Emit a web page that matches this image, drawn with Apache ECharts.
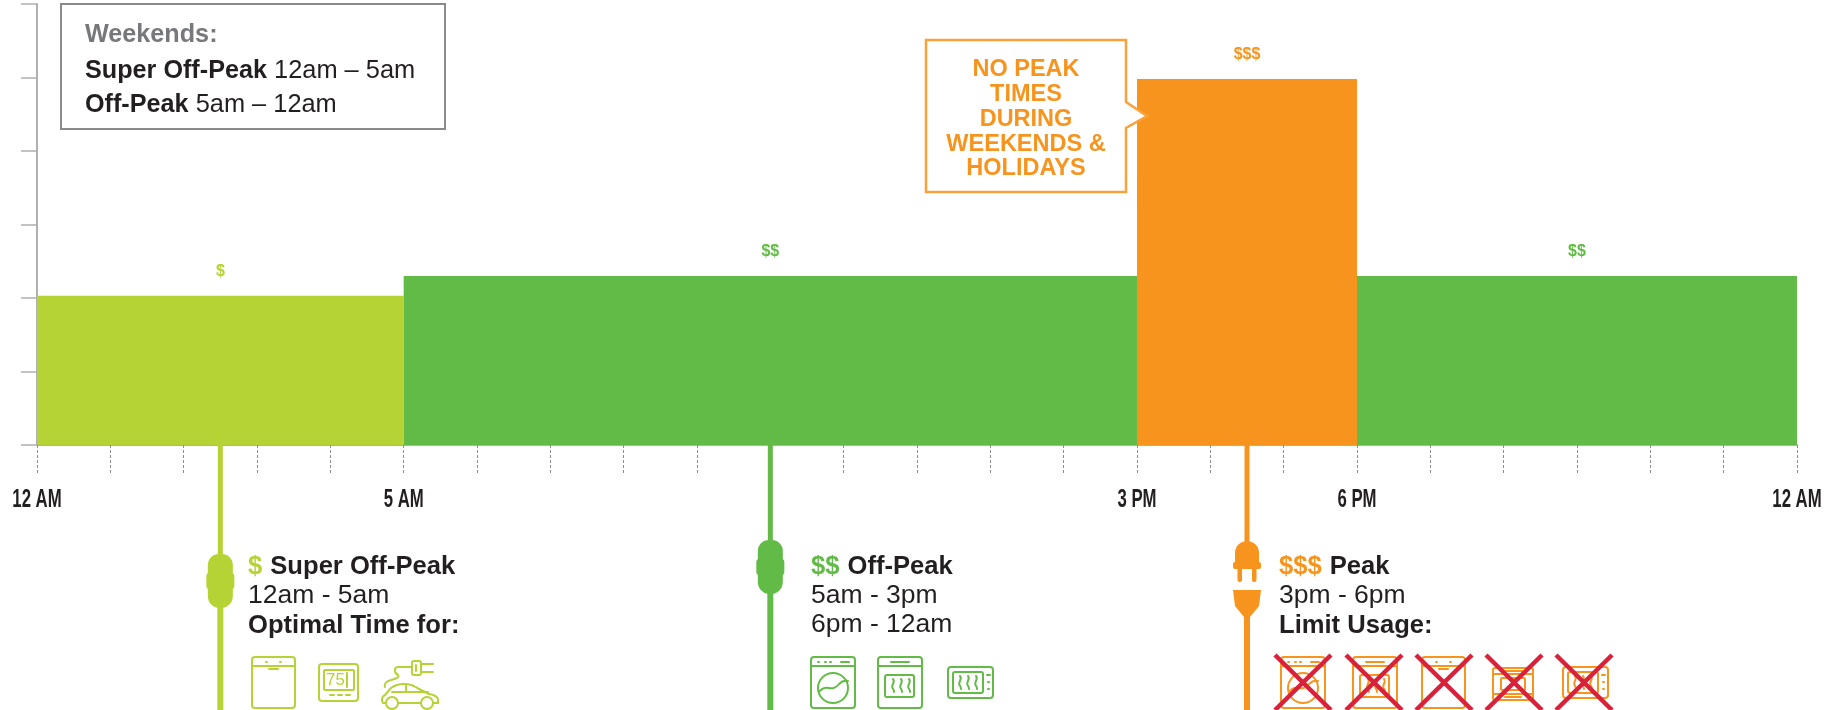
<!DOCTYPE html>
<html><head><meta charset="utf-8">
<style>html,body{margin:0;padding:0;background:#fff}#c{width:1833px;height:710px}</style>
<script src="https://cdn.jsdelivr.net/npm/echarts@6/dist/echarts.min.js"></script></head>
<body><div id="c"></div>
<script>
// --- data ---
const segStart  = [0, 5, 15, 18];
const segEnd    = [5, 15, 18, 24];
const segValue  = [2.03, 2.3, 4.98, 2.3];
const segPrice  = ['$', '$$', '$$$', '$$'];
const segColor  = ['#b5d334', '#62bb46', '#f7941e', '#62bb46'];
const tickHours  = [0, 5, 15, 18, 24];
const tickLabels = ['12 AM', '5 AM', '3 PM', '6 PM', '12 AM'];
const plugHours  = [2.5, 10, 16.5];
const plugColors = ['#b5d334', '#62bb46', '#f7941e'];
const plugTops   = [581, 567, 567]; // centre of each plug body
const weekendLines = ['Weekends:', 'Super Off-Peak', ' 12am – 5am', 'Off-Peak', ' 5am – 12am'];
const calloutLines = ['NO PEAK', 'TIMES', 'DURING', 'WEEKENDS &', 'HOLIDAYS'];

const DARK = '#231f20', GREY = '#77787b', FONT = '"Liberation Sans", Arial, sans-serif';
const RED = '#d9213a';

// --- icon outlines (local coordinates) ---
const rr = (x,y,w,h,r) => `M${x+r} ${y}h${w-2*r}a${r} ${r} 0 0 1 ${r} ${r}v${h-2*r}a${r} ${r} 0 0 1-${r} ${r}h-${w-2*r}a${r} ${r} 0 0 1-${r}-${r}v-${h-2*r}a${r} ${r} 0 0 1 ${r}-${r}z`;
const waves = (x,y,h) => [0,8,16].map(d => `M${x+d} ${y}c3 ${h*.25}-3 ${h*.5} 0 ${h*.75}c1 ${h*.1} 1 ${h*.2} 1 ${h*.25}`).join('');
const ICON = {
  dish: rr(0,0,43,51,3)+'M0 9h43M14 5h1M28 5h1M17 12h9',
  washer: rr(0,0,44,51,3)+'M0 9h44M7 5h1M14 5h1M19 5h1M30 5h8'+'M37 31a15 15 0 1 1-30 0a15 15 0 1 1 30 0z'+'M8 35c8-10 12 2 20-8c3-3 6-4 9-3',
  oven: rr(0,0,44,51,3)+'M0 9h44M13 5h18'+rr(7,18,29,22,2)+waves(15,22,13),
  micro: rr(0,0,45,31,3)+rr(5,5,30,21,2)+waves(12,9,13)+'M39 8h3M40 15h1M40 22h1',
  thermo: rr(0,0,39,37,3)+rr(5,6,30,20,1)+'M11 31h4M19 31h4M27 31h4M28 9v14',
  range: rr(0,0,40,32,2)+'M0 6h40M0 26h40M10 3h20M12 29h16'+rr(8,10,24,12,1),
  car: 'M5 54H2c-2-3-1-7 2-8l6-7c4-3 8-4 13-4c6 0 11 2 15 5l10 5c6 1 9 3 9 6v3h-5M17 54h23'
     +'M17 54a6 6 0 1 1-12 0a6 6 0 1 1 12 0zM52 54a6 6 0 1 1-12 0a6 6 0 1 1 12 0z'
     +'M11 43h36M25 35v8'
     +'M31 18H18c-6 0-5 6-1 8c2 2-2 4-7 5c-5 1-7 4-6 7'
     +rr(31,12,9,14,2)+'M40 15h12M40 23h12M35 16v6'
};
const iconNames  = ['dish','thermo','car','washer','oven','micro','washer','oven','dish','range','micro'];
const iconColors = [0,0,0,1,1,1,2,2,2,2,2];
const iconX = [252,319,381,811,878,948,1281,1353,1422,1493,1563];
const iconY = [657,664,649,657,657,667,657,657,657,668,667];
const crossX = [1303,1374,1444,1514,1584];

function renderIcon(params){
  const i = params.dataIndex;
  return {type:'path', x:iconX[i], y:iconY[i], silent:true, shape:{pathData:ICON[iconNames[i]]},
    style:{fill:null, stroke:plugColors[iconColors[i]], lineWidth:2, lineCap:'round', lineJoin:'round'}};
}
function renderCross(params){
  const c = crossX[params.dataIndex];
  return {type:'group', children:[[-28,28],[28,-28]].map(p => ({type:'line',
    shape:{x1:c+p[0], y1:655, x2:c+p[1], y2:710}, style:{stroke:RED, lineWidth:4.5}}))};
}
function renderTickLabel(params, api){
  const p = api.coord([api.value(0),0]);
  return {type:'text', x:p[0], y:p[1]+55, scaleX:0.67,
    style:{text:tickLabels[params.dataIndex], fontFamily:FONT, fontWeight:'bold', fontSize:25, fill:DARK, align:'center', verticalAlign:'middle'}};
}

const txt = (x,y,text,rich,extra) => Object.assign({type:'text', x, y, z:8, silent:true,
  style:Object.assign({text, rich, fontFamily:FONT, verticalAlign:'middle', align:'left', fill:DARK}, extra||{})});
const FB = 25.6, FN = 26.5;
const R = {
  b:{fontFamily:FONT, fontSize:FB, fontWeight:'bold', fill:DARK},
  n:{fontFamily:FONT, fontSize:FN, fill:DARK},
  g:{fontFamily:FONT, fontSize:25.2, fontWeight:'bold', fill:GREY},
  bw:{fontFamily:FONT, fontSize:25.2, fontWeight:'bold', fill:DARK},
  nw:{fontFamily:FONT, fontSize:25.4, fill:DARK},
  s:{fontFamily:FONT, fontSize:17, fill:DARK},
  c0:{fontFamily:FONT, fontSize:FB, fontWeight:'bold', fill:plugColors[0]},
  c1:{fontFamily:FONT, fontSize:FB, fontWeight:'bold', fill:plugColors[1]},
  c2:{fontFamily:FONT, fontSize:FB, fontWeight:'bold', fill:plugColors[2]}
};

const graphic = [
  {type:'rect', z:7, shape:{x:61,y:4,width:384,height:125}, style:{fill:'#fff', stroke:'#8a8a8a', lineWidth:2}},
  txt(85,35,`{g|${weekendLines[0]}}`,R),
  txt(85,71,`{bw|${weekendLines[1]}}{nw|${weekendLines[2]}}`,R),
  txt(85,105,`{bw|${weekendLines[3]}}{nw|${weekendLines[4]}}`,R),
  {type:'polygon', z:7, shape:{points:[[926,40],[1126,40],[1126,102],[1147,116],[1126,128],[1126,192],[926,192]]},
   style:{fill:'#fff', stroke:'#f9a13a', lineWidth:2.5}},
  ...calloutLines.map((t,i)=>txt(1026,[70,95,120,145,169][i],t,null,{fontSize:23.5,fontWeight:'bold',fill:'#f7941e',align:'center'})),
  txt(248,567,'{c0|$} {s| }{b|Super Off-Peak}',R),
  txt(248,596,'{n|12am - 5am}',R),
  txt(248,626,'{b|Optimal Time for:}',R),
  txt(811,567,'{c1|$$} {s| }{b|Off-Peak}',R),
  txt(811,596,'{n|5am - 3pm}',R),
  txt(811,625,'{n|6pm - 12am}',R),
  txt(1279,567,'{c2|$$$} {s| }{b|Peak}',R),
  txt(1279,596,'{n|3pm - 6pm}',R),
  txt(1279,626,'{b|Limit Usage:}',R),
  txt(326,680,'75',null,{fontSize:17,fill:plugColors[0]})
];

function renderSeg(params, api){
  const s = api.value(0), e = api.value(1), v = api.value(2);
  const a = api.coord([s,0]), b = api.coord([e,v]), c = api.coord([(s+e)/2,v]);
  return {type:'group', children:[
    {type:'rect', shape:{x:a[0], y:b[1], width:b[0]-a[0], height:a[1]-b[1]}, style:{fill:segColor[params.dataIndex]}},
    {type:'text', x:c[0], y:c[1]-24, style:{text:segPrice[params.dataIndex], fontFamily:FONT, fontSize:16, fontWeight:'bold',
      fill:segColor[params.dataIndex], align:'center', verticalAlign:'middle'}}
  ]};
}
function renderPlug(params, api){
  const i = params.dataIndex, col = plugColors[i];
  const p = api.coord([api.value(0),0]), x = p[0], y0 = p[1], cy = plugTops[i];
  const st = {fill:col};
  const kids = [];
  if(i < 2){
    kids.push({type:'rect', shape:{x:x-2.5,y:y0,width:5,height:cy-y0}, style:st});
    kids.push({type:'rect', shape:{x:x-3,y:cy,width:6,height:710-cy}, style:st});
    kids.push({type:'rect', shape:{x:x-12.5,y:cy-27,width:25,height:54,r:[11,11,12,12]}, style:st});
    kids.push({type:'rect', shape:{x:x-14,y:cy-8,width:28,height:16,r:3}, style:st});
  } else {
    kids.push({type:'rect', shape:{x:x-2.5,y:y0,width:5,height:100}, style:st});
    kids.push({type:'rect', shape:{x:x-12,y:541,width:24,height:26,r:[12,12,0,0]}, style:st});
    kids.push({type:'rect', shape:{x:x-14,y:562,width:28,height:7,r:2}, style:st});
    kids.push({type:'rect', shape:{x:x-9.5,y:566,width:4.5,height:16,r:2}, style:st});
    kids.push({type:'rect', shape:{x:x+5,y:566,width:4.5,height:16,r:2}, style:st});
    kids.push({type:'polygon', shape:{points:[[x-14,590],[x+14,590],[x+12,606],[x+3,617],[x-3,617],[x-12,606]]}, style:st});
    kids.push({type:'rect', shape:{x:x-3,y:616,width:6,height:94}, style:st});
  }
  return {type:'group', children:kids};
}

const chart = echarts.init(document.getElementById('c'), null, {renderer:'canvas'});
chart.setOption({
  animation:false,
  backgroundColor:'#fff',
  grid:{left:37, right:36, top:4, bottom:265},
  xAxis:{type:'value', min:0, max:24, interval:1,
    axisLine:{lineStyle:{color:'#b0b0b0', width:2}},
    axisTick:{show:true, length:30, lineStyle:{color:'#8f8f8f', type:[3,2], width:1}},
    splitLine:{show:false},
    axisLabel:{show:false}},
  yAxis:{type:'value', min:0, max:6, interval:1,
    axisLine:{show:true, onZero:false, lineStyle:{color:'#b0b0b0', width:2}},
    axisTick:{show:true, length:16, lineStyle:{color:'#b0b0b0', width:1.5}},
    splitLine:{show:false}, axisLabel:{show:false}},
  series:[
    {type:'custom', name:'Segments', clip:false, z:3, renderItem:renderSeg, encode:{x:[0,1], y:2},
      data:segStart.map((s,i)=>[s, segEnd[i], segValue[i]])},
    {type:'custom', name:'Plugs', clip:false, z:4, renderItem:renderPlug, encode:{x:0},
      data:plugHours.map(h=>[h])},
    {type:'custom', name:'Tick labels', clip:false, silent:true, z:4, renderItem:renderTickLabel, encode:{x:0},
      data:tickHours.map(h=>[h])},
    {type:'custom', name:'Icons', coordinateSystem:'none', silent:true, z:5, renderItem:renderIcon, data:iconX},
    {type:'custom', name:'Crosses', coordinateSystem:'none', silent:true, z:6, renderItem:renderCross, data:crossX}
  ],
  graphic
});
</script></body></html>
